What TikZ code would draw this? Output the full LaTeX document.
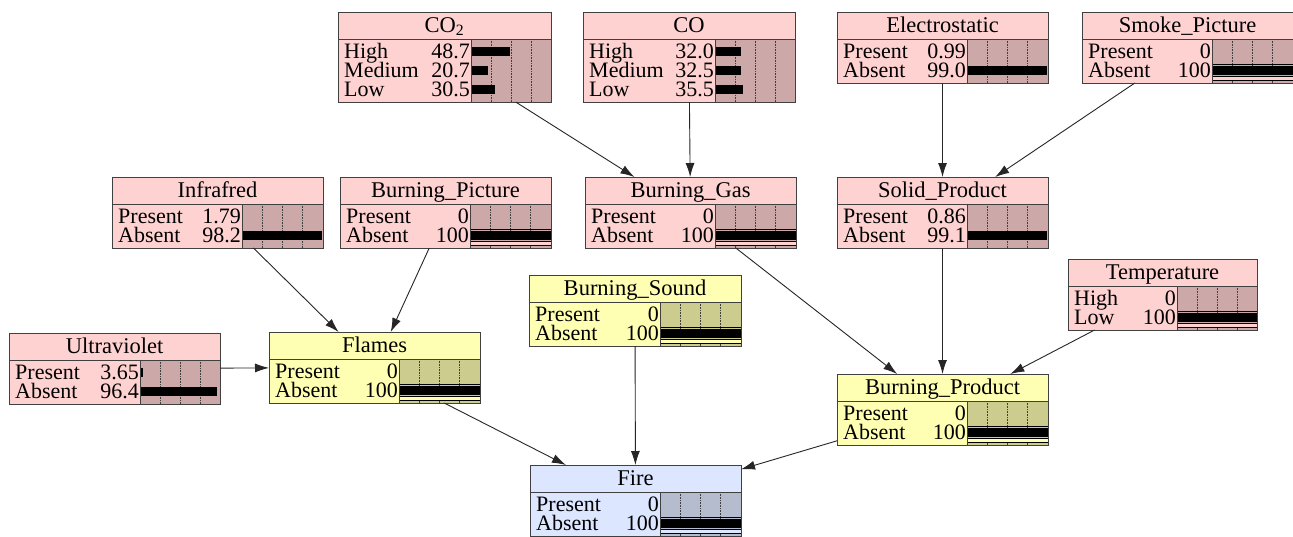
\documentclass[tikz,border=0pt]{standalone}
\usepackage{fontspec}
\setmainfont{Liberation Serif}
\usetikzlibrary{arrows.meta}
\definecolor{pkTxt}{HTML}{FFD2D2}
\definecolor{pkBar}{HTML}{CCA8A8}
\definecolor{ylTxt}{HTML}{FFFFB4}
\definecolor{ylBar}{HTML}{CCCC8E}
\definecolor{blTxt}{HTML}{DCE6FF}
\definecolor{blBar}{HTML}{B4BCCE}
\definecolor{frameline}{HTML}{404040}
\tikzset{
  netbox/.style={draw=frameline,line width=.9pt,inner sep=0pt,outer sep=0pt},
  boxline/.style={draw=frameline,line width=.9pt},
  gridline/.style={black!75,densely dotted,line width=.6pt},
  rowtext/.style={inner sep=0pt,font=\fontsize{22}{22}\selectfont},
  titletext/.style={inner sep=0pt,font=\fontsize{22.5}{22.5}\selectfont},
  link/.style={-{Latex[length=14pt,width=9pt]},line width=.9pt,black!85},
}
% belief box: name, left, top, width, text part, colours, title, rows, row count
\newcommand{\bnbox}[9]{%
  \pgfmathsetmacro{\bh}{27+19*#9+6}
  \node[netbox,fill=#6Txt,minimum width=#4,minimum height=\bh] (#1) at ({#2+#4/2},{#3+\bh/2}) {};
  \fill[#6Bar] ({#2+#5},{#3+27}) rectangle ({#2+#4},{#3+\bh});
  \foreach \q in {.25,.5,.75}
    \draw[gridline] ({#2+#5+\q*(#4-#5)},{#3+27}) -- ({#2+#5+\q*(#4-#5)},{#3+\bh});
  \node[titletext,anchor=base] at ({#2+#4/2},{#3+20}) {#7};
  \foreach \lab/\val/\pct/\fnd [count=\i] in {#8} {
    \pgfmathsetmacro{\ry}{#3+27+12.5+19*(\i-1)}
    \node[rowtext,anchor=base west] at ({#2+6},{\ry+7}) {\lab};
    \node[rowtext,anchor=base east] at ({#2+#5-1},{\ry+7}) {\val};
    \ifnum\fnd=1
      \fill[#6Txt] ({#2+#5},{\ry+6}) rectangle ({#2+#4},{\ry+9.5});
      \draw[black,line width=.6pt] ({#2+#5},{\ry-6}) -- ({#2+#4},{\ry-6})
        ({#2+#5},{\ry+6}) -- ({#2+#4},{\ry+6})
        ({#2+#5},{\ry+9.5}) -- ({#2+#4},{\ry+9.5});
    \fi
    \fill[black] ({#2+#5},{\ry-4.3}) rectangle ({#2+#5+\pct*(#4-#5)/100},{\ry+4.3});
  }
  \draw[boxline] ({#2},{#3+27}) -- ({#2+#4},{#3+27});
  \draw[boxline] ({#2+#5},{#3+27}) -- ({#2+#5},{#3+\bh});
  \draw[boxline] (#1.south west) rectangle (#1.north east);
}
\begin{document}
\begin{tikzpicture}[x=1pt,y=-1pt]
\useasboundingbox (0,0) rectangle (1293,536);
\fill[white] (0,0) rectangle (1293,536);
% top row
\bnbox{co2}{338}{12}{213}{133}{pk}{CO\textsubscript{2}}{High/48.7/48.7/0,Medium/20.7/20.7/0,Low/30.5/30.5/0}{3}
\bnbox{co}{583}{12}{212}{132}{pk}{CO}{High/32.0/32.0/0,Medium/32.5/32.5/0,Low/35.5/35.5/0}{3}
\bnbox{elec}{837}{12}{211}{130}{pk}{Electrostatic}{Present/0.99/0.99/0,Absent/99.0/99.0/0}{2}
\bnbox{smoke}{1082}{12}{211}{130}{pk}{Smoke\_Picture}{Present/0/0/0,Absent/100/100/1}{2}
% second row
\bnbox{infra}{112}{177}{211}{130}{pk}{Infrafred}{Present/1.79/1.79/0,Absent/98.2/98.2/0}{2}
\bnbox{bpic}{340}{177}{211}{130}{pk}{Burning\_Picture}{Present/0/0/0,Absent/100/100/1}{2}
\bnbox{bgas}{585}{177}{211}{130}{pk}{Burning\_Gas}{Present/0/0/0,Absent/100/100/1}{2}
\bnbox{solid}{837}{177}{211}{130}{pk}{Solid\_Product}{Present/0.86/0.86/0,Absent/99.1/99.1/0}{2}
\bnbox{temp}{1068}{259}{189}{109}{pk}{Temperature}{High/0/0/0,Low/100/100/1}{2}
% intermediate nodes
\bnbox{bsound}{529}{275}{212}{131}{yl}{Burning\_Sound}{Present/0/0/0,Absent/100/100/1}{2}
\bnbox{uv}{9}{333}{211}{131}{pk}{Ultraviolet}{Present/3.65/3.65/0,Absent/96.4/96.4/0}{2}
\bnbox{flames}{269}{332}{211}{130}{yl}{Flames}{Present/0/0/0,Absent/100/100/1}{2}
\bnbox{bprod}{837}{374}{211}{130}{yl}{Burning\_Product}{Present/0/0/0,Absent/100/100/1}{2}
\bnbox{fire}{530}{465}{211}{130}{bl}{Fire}{Present/0/0/0,Absent/100/100/1}{2}
% links
\draw[link] (co2) -- (bgas);
\draw[link] (co) -- (bgas);
\draw[link] (elec) -- (solid);
\draw[link] (smoke) -- (solid);
\draw[link] (infra) -- (flames);
\draw[link] (bpic) -- (flames);
\draw[link] (uv) -- (flames);
\draw[link] (bgas) -- (bprod);
\draw[link] (solid) -- (bprod);
\draw[link] (temp) -- (bprod);
\draw[link] (flames) -- (fire);
\draw[link] (bsound) -- (fire);
\draw[link] (bprod) -- (fire);
\end{tikzpicture}
\end{document}
